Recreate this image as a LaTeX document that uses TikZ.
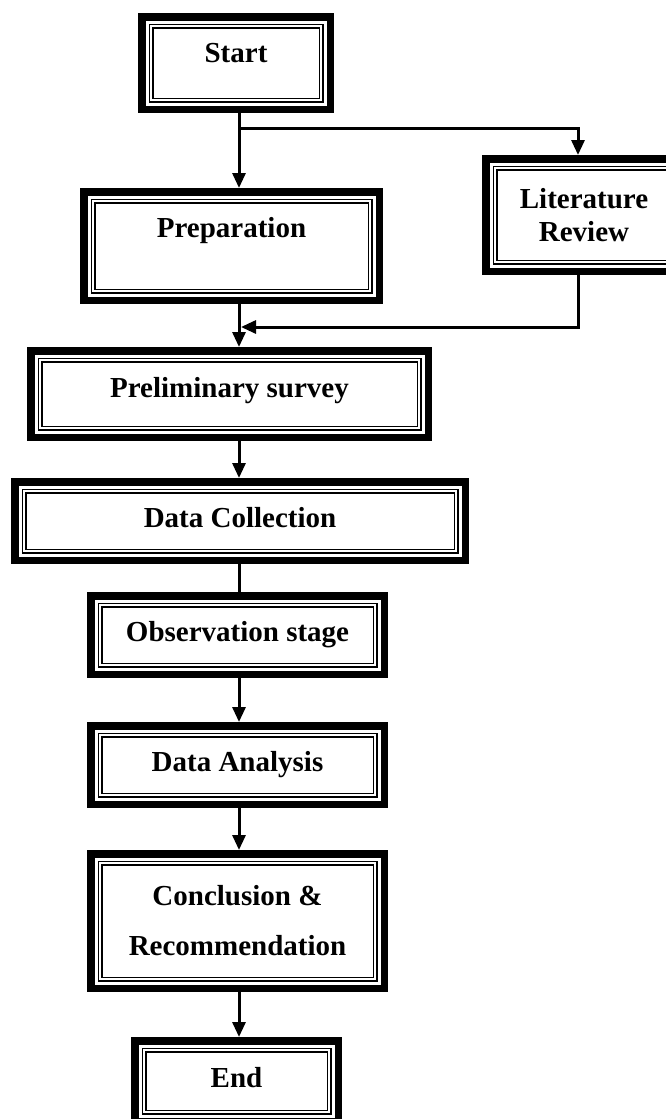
\documentclass[tikz,border=0pt]{standalone}
\usepackage{fontspec}
\setmainfont{Liberation Serif}
\usepackage{tikz}
\usetikzlibrary{arrows.meta}
\usetikzlibrary{calc, positioning}
\tikzstyle{frame} = [line width=1.4pt, double, double distance=2.2pt]
\tikzstyle{stage} = [draw, rectangle,
	line width=7.5pt,
	inner sep=0pt,
	align=center,
	font=\fontsize{29}{33}\selectfont\bfseries,
	append after command={\pgfextra{\draw[frame]
		([shift={(13pt,-13pt)}]\tikzlastnode.north west) rectangle
		([shift={(-13pt,13pt)}]\tikzlastnode.south east);}}]
\tikzstyle{arrow} = [-{Triangle[length=15pt, width=13pt]}, line width=3pt]
\tikzstyle{line} = [line width=3pt]
\tikzset{boxsize/.style 2 args={minimum width=#1pt-7.5pt, minimum height=#2pt-7.5pt},
	cap/.style={text height=19pt, text depth=#1},
	cap/.default=6pt}

\begin{document}
\begin{tikzpicture}[x=1pt, y=-1pt]
			\useasboundingbox (0,0) rectangle (666,1119);
			\node (start) [stage, boxsize={196}{100}, cap=21pt] at (236,63) {Start};
			\node (prep) [stage, boxsize={303}{116}, cap=37pt] at (231.5,246) {Preparation};
			\node (lit) [stage, boxsize={204}{120}] at (584,215) {Literature\\Review};
			\node (prelim) [stage, boxsize={405}{94}, cap=13pt] at (229.5,394) {Preliminary survey};
			\node (collect) [stage, boxsize={458}{86}, cap] at (240,521) {Data Collection};
			\node (observe) [stage, boxsize={301}{86}, cap=7pt] at (237.5,635) {Observation stage};
			\node (analysis) [stage, boxsize={301}{86}, cap=7pt] at (237.5,765) {Data Analysis};
			\node (concl) [stage, boxsize={301}{142}] at (237.5,921) {Conclusion \&\\[17pt]Recommendation};
			\node (finish) [stage, boxsize={211}{88}, cap=7pt] at (236.5,1081) {End};
			
			\coordinate (split) at (239,128);
			\coordinate (turn) at (578,128);
			\coordinate (join) at (241,327);
			
			\draw [line] (start.south -| split) -- (split);
			\draw [arrow] (split) -- (prep.north -| split);
			\draw [arrow] (split) -- (turn) -- (lit.north -| turn);
			\draw [arrow] (lit.south -| turn) |- (join);
			\draw [arrow] (prep.south -| split) -- (prelim.north -| split);
			\draw [arrow] (prelim.south -| split) -- (collect.north -| split);
			\draw [line] (collect.south -| split) -- (observe.north -| split);
			\draw [arrow] (observe.south -| split) -- (analysis.north -| split);
			\draw [arrow] (analysis.south -| split) -- (concl.north -| split);
			\draw [arrow] (concl.south -| split) -- (finish.north -| split);
		\end{tikzpicture}
\end{document}
